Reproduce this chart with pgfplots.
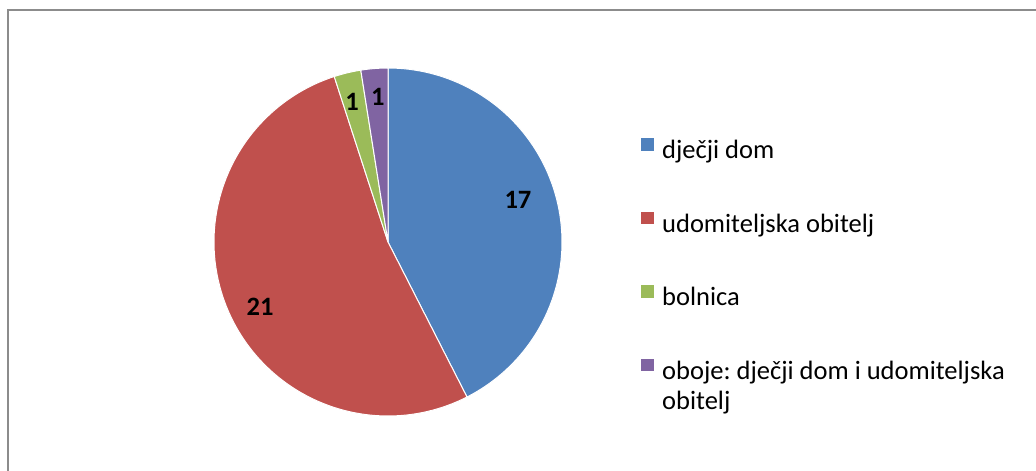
\documentclass[border=0pt]{standalone}
\usepackage{pgfplots}
\pgfplotsset{compat=1.18}
\usepgfplotslibrary{polar}
\usepackage{fontspec}
\setmainfont{Carlito}
\frenchspacing
\definecolor{cA}{HTML}{4F81BD}
\definecolor{cB}{HTML}{C0504D}
\definecolor{cC}{HTML}{9BBB59}
\definecolor{cD}{HTML}{8064A2}
\definecolor{frame}{HTML}{8C8C8C}
\newcommand\lf{\fontsize{26.5}{30}\selectfont}
% data: djecji dom, udomiteljska obitelj, bolnica, oboje
\def\vA{17}\def\vB{21}\def\vC{1}\def\vD{1}
\pgfmathsetmacro\tot{\vA+\vB+\vC+\vD}
\pgfmathsetmacro\aA{90}
\pgfmathsetmacro\aB{\aA-360*\vA/\tot}
\pgfmathsetmacro\aC{\aB-360*\vB/\tot}
\pgfmathsetmacro\aD{\aC-360*\vC/\tot}
\pgfmathsetmacro\aE{\aD-360*\vD/\tot}
\begin{document}
\begin{tikzpicture}
\useasboundingbox (0,0) rectangle (1036pt,471pt);
\draw[frame, line width=2pt] (7.5pt,0pt) -- (7.5pt,460.5pt) -- (1036pt,460.5pt);
\begin{polaraxis}[
  at={(388pt,229pt)}, anchor=center,
  scale only axis, width=348pt, height=348pt,
  hide axis, xmin=0, xmax=360, ymin=0, ymax=1, clip=false,
  legend cell align=left,
  legend image code/.code={\fill[#1] (0pt,1.5pt) rectangle (14pt,15pt);},
  legend style={at={(1.22414,0.8017)}, anchor=north west, draw=none, fill=none,
    inner sep=0pt, font=\lf, column sep=7pt, row sep=44pt,
    nodes={inner sep=0pt, text height=20pt, text depth=8pt}},
]
\addplot[fill=cA, draw=white, line width=1pt, domain=\aB:\aA, samples=90] {1} -- (axis cs:0,0) -- cycle;
\addlegendentry{dječji dom}
\addplot[fill=cB, draw=white, line width=1pt, domain=\aC:\aB, samples=110] {1} -- (axis cs:0,0) -- cycle;
\addlegendentry{udomiteljska obitelj}
\addplot[fill=cC, draw=white, line width=1pt, domain=\aD:\aC, samples=8] {1} -- (axis cs:0,0) -- cycle;
\addlegendentry{bolnica}
\addplot[fill=cD, draw=white, line width=1pt, domain=\aE:\aD, samples=8] {1} -- (axis cs:0,0) -- cycle;
\addlegendentry{\vtop{\hbox{oboje: dječji dom i udomiteljska}\hbox{obitelj}}}
\node[font={\lf\bfseries}] at (axis cs:17.9,0.785) {17};
\node[font={\lf\bfseries}] at (axis cs:207,0.825) {21};
\node[font={\lf\bfseries}] at (axis cs:104.4,0.83) {1};
\node[font={\lf\bfseries}] at (axis cs:94,0.835) {1};
\end{polaraxis}
\end{tikzpicture}
\end{document}
